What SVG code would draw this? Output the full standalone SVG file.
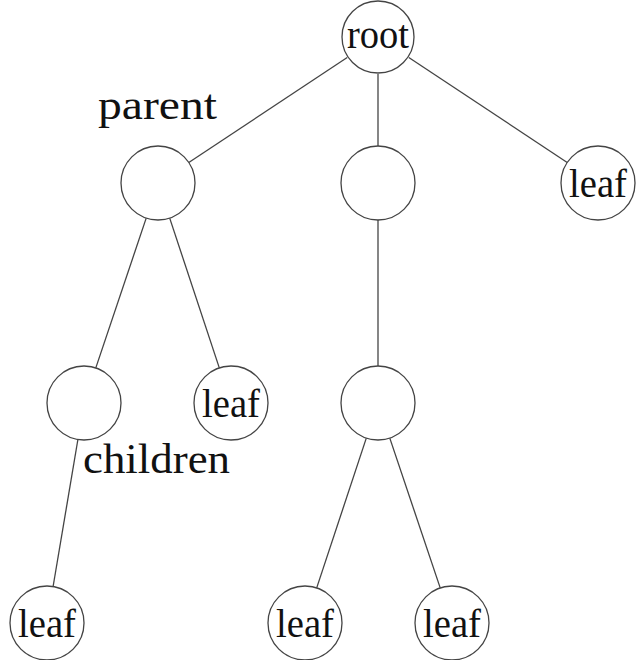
<svg xmlns="http://www.w3.org/2000/svg" width="640" height="660" viewBox="0 0 640 660">
<style>
.n circle{fill:#fff;stroke:#444;stroke-width:1.3}
.n text,.lbl{font-family:"Liberation Serif","DejaVu Serif",serif;fill:#111;text-anchor:middle}
.n text{font-size:39px}
.lbl{font-size:42px}
#edges line{stroke:#444;stroke-width:1.3}
</style>
<rect width="640" height="660" fill="#fff"/>
<g id="edges">
<line x1="347.2" y1="57.5" x2="188.8" y2="162.5"/>
<line x1="378" y1="74" x2="378" y2="146"/>
<line x1="408.8" y1="57.5" x2="567.2" y2="162.5"/>
<line x1="146.2" y1="218.1" x2="95.8" y2="367.9"/>
<line x1="169.7" y1="218.1" x2="219.3" y2="367.9"/>
<line x1="378" y1="220" x2="378" y2="366"/>
<line x1="77.9" y1="439.5" x2="53.1" y2="586.5"/>
<line x1="366.3" y1="438.1" x2="316.7" y2="587.9"/>
<line x1="389.8" y1="438.1" x2="440.2" y2="587.9"/>
</g>
<g id="root" class="n"><circle cx="378" cy="37" r="36"/><text x="378" y="48" textLength="62" lengthAdjust="spacingAndGlyphs">root</text></g>
<g id="parent" class="n"><circle cx="158" cy="183" r="37"/></g>
<g id="mid" class="n"><circle cx="378" cy="183" r="37"/></g>
<g id="leaf1" class="n"><circle cx="598" cy="183" r="37"/><text x="598" y="197" textLength="58" lengthAdjust="spacingAndGlyphs">leaf</text></g>
<g id="child" class="n"><circle cx="84" cy="403" r="37"/></g>
<g id="leaf2" class="n"><circle cx="231" cy="403" r="37"/><text x="231" y="417" textLength="58" lengthAdjust="spacingAndGlyphs">leaf</text></g>
<g id="low" class="n"><circle cx="378" cy="403" r="37"/></g>
<g id="leaf3" class="n"><circle cx="47" cy="623" r="37"/><text x="47" y="637" textLength="58" lengthAdjust="spacingAndGlyphs">leaf</text></g>
<g id="leaf4" class="n"><circle cx="305" cy="623" r="37"/><text x="305" y="637" textLength="58" lengthAdjust="spacingAndGlyphs">leaf</text></g>
<g id="leaf5" class="n"><circle cx="452" cy="623" r="37"/><text x="452" y="637" textLength="58" lengthAdjust="spacingAndGlyphs">leaf</text></g>
<g id="labels">
<text class="lbl" x="157.5" y="119" textLength="119" lengthAdjust="spacingAndGlyphs">parent</text>
<text class="lbl" x="156.5" y="473" textLength="147" lengthAdjust="spacingAndGlyphs">children</text>
</g>
</svg>
